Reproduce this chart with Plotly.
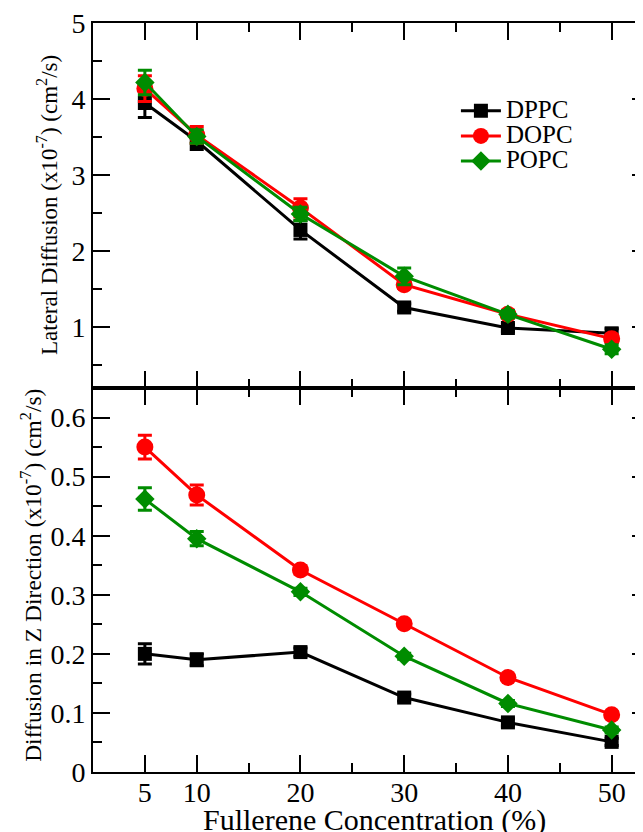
import plotly.graph_objects as go

# ---- data ----
conc = [5, 10, 20, 30, 40, 50]

lat_dppc = [3.95, 3.45, 2.28, 1.26, 0.99, 0.92]
lat_dppc_err = [0.19, 0.11, 0.12, 0.05, 0.05, 0.06]
lat_dopc = [4.14, 3.53, 2.57, 1.56, 1.17, 0.85]
lat_dopc_err = [0.17, 0.11, 0.12, 0.05, 0.04, 0.05]
lat_popc = [4.22, 3.51, 2.49, 1.67, 1.17, 0.71]
lat_popc_err = [0.16, 0.09, 0.09, 0.11, 0.05, 0.06]

z_dppc = [0.200, 0.190, 0.203, 0.126, 0.084, 0.051]
z_dppc_err = [0.017, 0.010, 0.007, 0.006, 0.006, 0.006]
z_dopc = [0.550, 0.469, 0.342, 0.251, 0.160, 0.097]
z_dopc_err = [0.020, 0.017, 0.007, 0.005, 0.005, 0.005]
z_popc = [0.462, 0.395, 0.305, 0.196, 0.116, 0.071]
z_popc_err = [0.019, 0.012, 0.006, 0.005, 0.005, 0.005]

series_names = ["DPPC", "DOPC", "POPC"]
series_colors = ["black", "#ff0000", "#008c00"]
series_symbols = ["square", "circle", "diamond"]
series_sizes = [14, 17, 15]

x_tickvals = [5, 10, 20, 30, 40, 50]
x_minor = [15, 25, 35, 45]
top_tickvals = [1, 2, 3, 4, 5]
top_minor = [0.5, 1.5, 2.5, 3.5, 4.5]
bot_tickvals = [0, 0.1, 0.2, 0.3, 0.4, 0.5, 0.6]
bot_ticktext = ["0", "0.1", "0.2", "0.3", "0.4", "0.5", "0.6"]
bot_minor = [0.05, 0.15, 0.25, 0.35, 0.45, 0.55]

FONT = "Liberation Serif, Times New Roman, serif"

# page offset of the default html body margin
OFF = 8
PLOT_L, PLOT_T, PLOT_W, PLOT_H = 93, 21, 550, 751   # page pixel geometry of plot area
PLOT_B = PLOT_T + PLOT_H


def px_x(p):
    return (p - PLOT_L) / PLOT_W


def px_y(p):
    return (PLOT_B - p) / PLOT_H


fig = go.Figure()

top_data = [(lat_dppc, lat_dppc_err), (lat_dopc, lat_dopc_err), (lat_popc, lat_popc_err)]
bot_data = [(z_dppc, z_dppc_err), (z_dopc, z_dopc_err), (z_popc, z_popc_err)]

for i, (vals, errs) in enumerate(top_data):
    fig.add_trace(go.Scatter(
        x=conc, y=vals, mode="lines+markers",
        name='<span style="font-size:25px">%s</span>' % series_names[i],
        line=dict(color=series_colors[i], width=3),
        marker=dict(symbol=series_symbols[i], size=series_sizes[i], color=series_colors[i]),
        error_y=dict(type="data", array=errs, color=series_colors[i], thickness=3, width=7),
        xaxis="x2", yaxis="y2", showlegend=True,
    ))

for i, (vals, errs) in enumerate(bot_data):
    fig.add_trace(go.Scatter(
        x=conc, y=vals, mode="lines+markers", name=series_names[i],
        line=dict(color=series_colors[i], width=3),
        marker=dict(symbol=series_symbols[i], size=series_sizes[i], color=series_colors[i]),
        error_y=dict(type="data", array=errs, color=series_colors[i], thickness=3, width=7),
        xaxis="x", yaxis="y", showlegend=False,
    ))

split = 385.0 / PLOT_H

common_axis = dict(
    showline=True, linewidth=2, linecolor="black", mirror="ticks",
    ticks="inside", ticklen=17, tickwidth=2, tickcolor="black",
    showgrid=False, zeroline=False, ticklabeloverflow="allow",
    tickfont=dict(family=FONT, size=28, color="black"),
)
minor_style = dict(ticks="inside", ticklen=9, tickwidth=2, tickcolor="black")

fig.update_layout(
    width=643, height=832,
    margin=dict(l=PLOT_L - OFF, r=0, t=PLOT_T - OFF, b=832 - (PLOT_T - OFF) - PLOT_H),
    paper_bgcolor="white", plot_bgcolor="white",
    font=dict(family=FONT, color="black"),
    xaxis=dict(domain=[0, 1], anchor="y", range=[0, 53.6],
               tickmode="array", tickvals=x_tickvals, ticklabelstandoff=-6,
               minor=dict(tickmode="array", tickvals=x_minor, **minor_style),
               **common_axis),
    yaxis=dict(domain=[0, split], anchor="x", range=[0, 0.65],
               tickmode="array", tickvals=bot_tickvals, ticktext=bot_ticktext,
               ticklabelstandoff=0,
               minor=dict(tickmode="array", tickvals=bot_minor, **minor_style),
               **common_axis),
    xaxis2=dict(domain=[0, 1], anchor="y2", range=[0, 53.6], matches="x",
                tickmode="array", tickvals=x_tickvals, showticklabels=False,
                minor=dict(tickmode="array", tickvals=x_minor, **minor_style),
                **common_axis),
    yaxis2=dict(domain=[split, 1], anchor="x2", range=[0.2, 5.003],
                tickmode="array", tickvals=top_tickvals, ticklabelstandoff=0,
                minor=dict(tickmode="array", tickvals=top_minor, **minor_style),
                **common_axis),
    legend=dict(x=px_x(452), y=px_y(91.5), xanchor="left", yanchor="top",
                bgcolor="rgba(0,0,0,0)", borderwidth=0,
                font=dict(family=FONT, size=17, color="black"),
                tracegroupgap=0, itemwidth=40),
    showlegend=True,
)

fig.add_annotation(
    text="Lateral Diffusion (x10<sup>-7</sup>) (cm<sup>2</sup>/s)",
    xref="paper", yref="paper", x=px_x(48), y=px_y(204),
    xanchor="center", yanchor="middle", textangle=-90, showarrow=False,
    font=dict(family=FONT, size=23, color="black"),
)
fig.add_annotation(
    text="Diffusion in Z Direction (x10<sup>-7</sup>) (cm<sup>2</sup>/s)",
    xref="paper", yref="paper", x=px_x(31), y=px_y(575),
    xanchor="center", yanchor="middle", textangle=-90, showarrow=False,
    font=dict(family=FONT, size=23.5, color="black"),
)
fig.add_annotation(
    text="Fullerene Concentration (%)",
    xref="paper", yref="paper", x=px_x(371.5), y=px_y(820),
    xanchor="center", yanchor="middle", showarrow=False,
    font=dict(family=FONT, size=30, color="black"),
)

fig.write_html("out.html")
